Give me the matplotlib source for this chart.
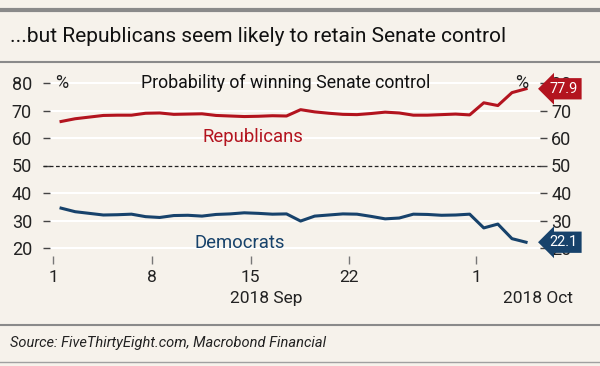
import matplotlib.pyplot as plt
from matplotlib.lines import Line2D

# Daily probabilities, Sep 1 - Oct 4 2018 (x = day of September, Oct 1 = 31)
days = [1.55 + i for i in range(34)]
republicans = [66.0, 67.0, 67.6, 68.2, 68.3, 68.3, 69.0, 69.1, 68.6, 68.7,
               68.8, 68.2, 68.0, 67.8, 67.9, 68.1, 68.0, 70.3, 69.5, 69.0,
               68.6, 68.5, 68.9, 69.4, 69.1, 68.3, 68.3, 68.5, 68.7, 68.4,
               72.8, 71.8, 76.5, 77.9]
democrats = [34.5, 33.2, 32.6, 32.0, 32.1, 32.3, 31.4, 31.1, 31.8, 31.9,
             31.6, 32.2, 32.4, 32.8, 32.6, 32.3, 32.4, 29.8, 31.6, 32.0,
             32.4, 32.3, 31.5, 30.6, 30.9, 32.3, 32.2, 31.9, 32.0, 32.3,
             27.3, 28.7, 23.4, 22.1]
x_ticks = [1, 8, 15, 22, 31]
x_labels = ["1", "8", "15", "22", "1"]
y_ticks = [20, 30, 40, 50, 60, 70, 80]

RED = "#b3141f"
BLUE = "#17426b"
BG = "#f6f2eb"
TXT = "#222222"
plt.rcParams["font.family"] = ["Roboto", "DejaVu Sans"]

fig = plt.figure(figsize=(6, 3.66), dpi=100, facecolor=BG)
ax = fig.add_axes([50 / 600, 1 - 256.25 / 366, 490 / 600, 181.5 / 366])
ax.set_facecolor(BG)

# Frame lines, title and source
fig.add_artist(Line2D([0, 1], [1 - 10 / 366] * 2, color="#8a8a8a", lw=3))
fig.add_artist(Line2D([0, 1], [1 - 62 / 366] * 2, color="#8a8a8a", lw=1.5))
fig.add_artist(Line2D([0, 1], [1 - 325 / 366] * 2, color="#8a8a8a", lw=1.5))
fig.add_artist(Line2D([0, 1], [1 - 362 / 366] * 2, color="#a0a0a0", lw=1))
fig.text(10 / 600, 1 - 37 / 366, "...but Republicans seem likely to retain Senate control",
         fontsize=15, va="center", ha="left", color="#111111")
fig.text(10 / 600, 1 - 343 / 366, "Source: FiveThirtyEight.com, Macrobond Financial",
         fontsize=10.5, style="italic", va="center", ha="left", color=TXT)

ax.set_xlim(0.766, 35.54)
ax.set_ylim(17, 83)
for s in ax.spines.values():
    s.set_visible(False)

for y in y_ticks:
    if y != 50:
        ax.axhline(y, color="white", lw=1.5, zorder=1)
ax.axhline(50, xmin=-0.015, xmax=1.005, color=TXT, lw=0.9,
           ls=(0, (3, 2)), clip_on=False, zorder=2)

ax.plot(days, republicans, color=RED, lw=2.2, zorder=3)
ax.plot(days, democrats, color=BLUE, lw=2.2, zorder=3)

ax.set_yticks(y_ticks)
ax.tick_params(axis="y", length=5, width=1, color="#444444",
               labelsize=13, pad=8, labelcolor=TXT)
ax.set_xticks(x_ticks)
ax.set_xticklabels(x_labels)
ax.tick_params(axis="x", length=6, width=1, color="#777777", labelsize=12.5,
               pad=4, labelcolor=TXT)

# Right-hand scale
ax2 = ax.twinx()
ax2.set_ylim(ax.get_ylim())
ax2.set_yticks(y_ticks)
for s in ax2.spines.values():
    s.set_visible(False)
ax2.tick_params(axis="y", length=5, width=1, color="#444444",
                labelsize=13, pad=3, labelcolor=TXT)

ax.text(1.1, 80, "%", fontsize=13, va="center", ha="left", color=TXT)
ax.text(34.7, 80, "%", fontsize=13, va="center", ha="right", color=TXT)
ax.text(0.48, 80, "Probability of winning Senate control", transform=ax.get_yaxis_transform(),
        fontsize=12.8, va="center", ha="center", color="#111111")
ax.text(15.2, 60.5, "Republicans", fontsize=13.3, color=RED, ha="center", va="center")
ax.text(14.2, 21.8, "Democrats", fontsize=13.3, color=BLUE, ha="center", va="center")

# Last-value labels on the right axis
for val, col in [(republicans[-1], RED), (democrats[-1], BLUE)]:
    ax2.annotate(f"{val:.1f}", xy=(1, val), xycoords=("axes fraction", "data"),
                 xytext=(7, 0), textcoords="offset points", ha="left", va="center",
                 fontsize=10.5, color="white", zorder=5, annotation_clip=False,
                 bbox=dict(boxstyle="larrow,pad=0.25", fc=col, ec="none"))

fig.text(266 / 600, 1 - 298.5 / 366, "2018 Sep", fontsize=12.5, ha="center",
         va="center", color=TXT)
fig.text(538 / 600, 1 - 298.5 / 366, "2018 Oct", fontsize=12.5, ha="center",
         va="center", color=TXT)

fig.savefig("out.png", dpi=100, facecolor=BG)
